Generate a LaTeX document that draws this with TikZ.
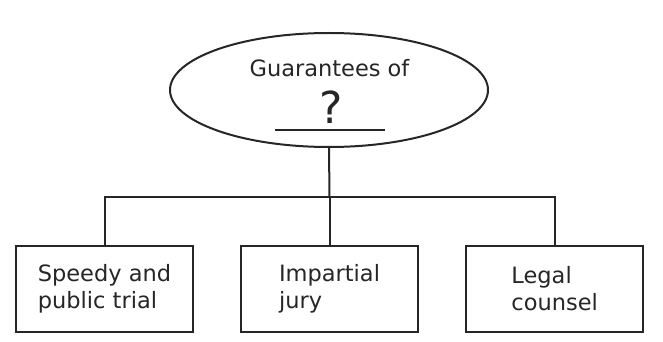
\documentclass[tikz,border=0pt]{standalone}
\usepackage{fontspec}
\setmainfont{DejaVu Sans}
\usetikzlibrary{shapes.geometric}
\definecolor{ink}{HTML}{262626}
\begin{document}
\begin{tikzpicture}[x=1pt,y=-1pt,
  line/.style={draw=ink,line width=2pt},
  boxnode/.style={line,rectangle,minimum width=177pt,minimum height=86pt,inner sep=0pt,
    align=left,text=ink,font=\fontsize{22.5}{27.5}\selectfont},
  lbl/.style={text=ink,inner sep=0pt,anchor=base}]
\useasboundingbox (0,0) rectangle (663,342);
\node[line,ellipse,minimum width=318pt,minimum height=114pt,inner sep=0pt] (g) at (329,90) {};
\node[lbl,font=\fontsize{22.5}{26}\selectfont] (t1) at (329.5,77) {Guarantees of};
\node[lbl,font=\fontsize{44}{48}\selectfont] (q) at (331.5,124) {?};
\coordinate (u1) at (275,130);
\coordinate (u2) at (385,130);
\draw[line] (u1) -- (u2);
\node[boxnode] (b1) at (104.5,288.7) {Speedy and\\public trial};
\node[boxnode] (b2) at (329.5,288.7) {Impartial\\jury};
\node[boxnode] (b3) at (554.7,288.7) {Legal\\counsel};
\coordinate (j) at (329.5,197.3);
\coordinate (h1) at (b1.north |- j);
\coordinate (h3) at (b3.north |- j);
\draw[line] (g.south) -- (j);
\draw[line] (b1.north) -- (h1) -- (h3) -- (b3.north);
\draw[line] (j) -- (b2.north);
\end{tikzpicture}
\end{document}
